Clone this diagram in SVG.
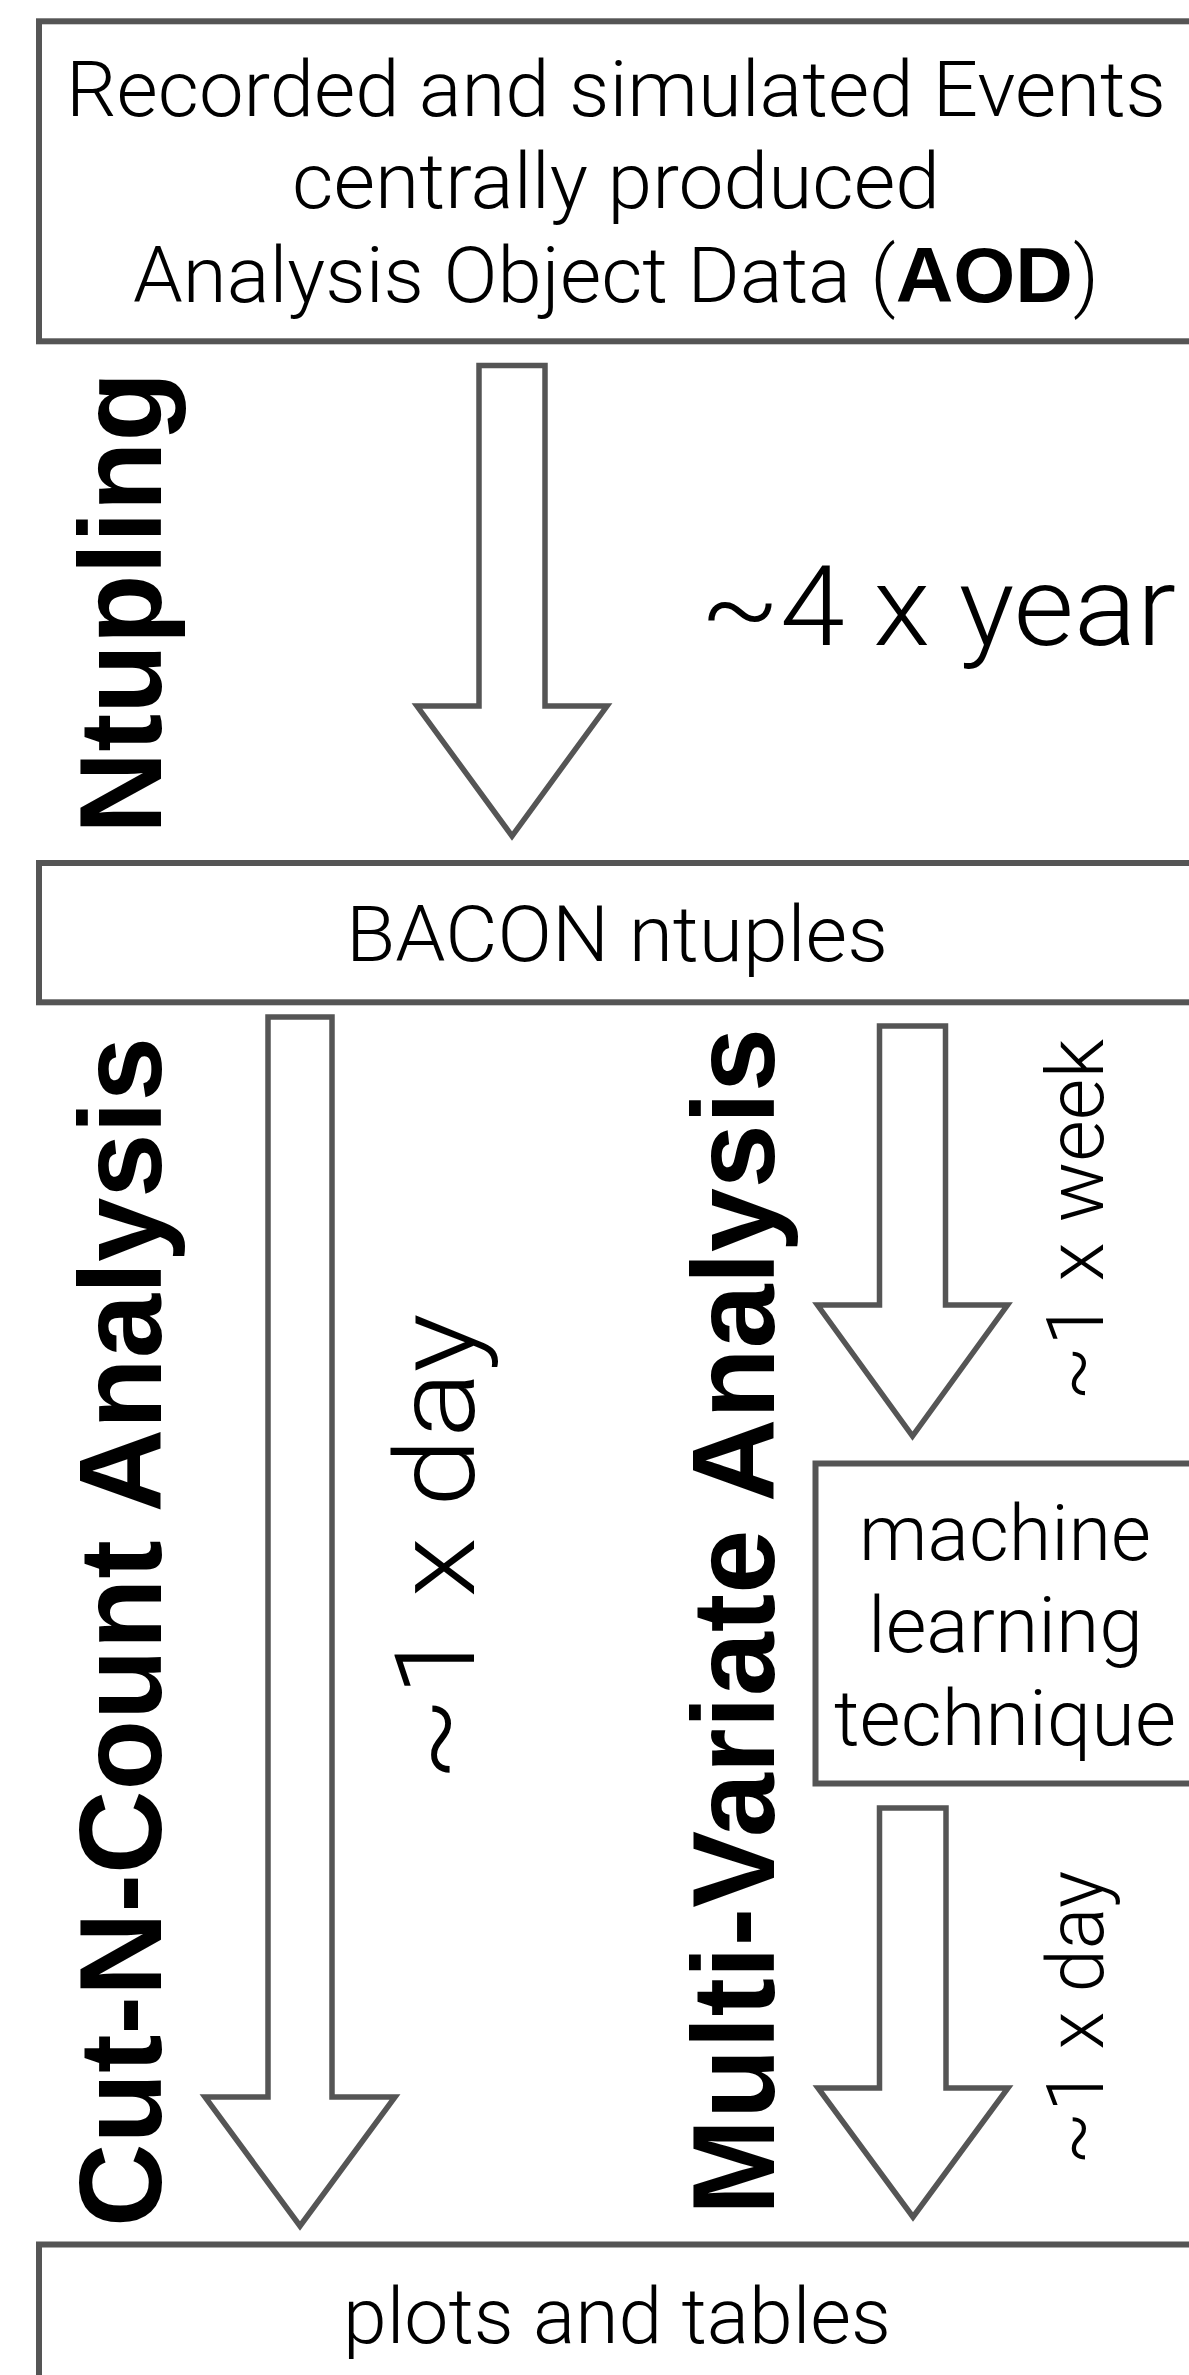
<svg xmlns="http://www.w3.org/2000/svg" width="1189" height="2375" viewBox="0 0 1189 2375">
<style>
.box{fill:#fff;stroke:#555;stroke-width:6}
.arr{fill:#fff;stroke:#555;stroke-width:5.5;stroke-linejoin:miter;stroke-miterlimit:10}
.t{font-family:Roboto,"Liberation Sans",sans-serif;font-weight:300;font-size:78px;fill:#000;text-anchor:middle}
.tb{font-family:"Liberation Sans",Arial,sans-serif;font-weight:bold;font-size:116px;fill:#000;text-anchor:middle}
.b{font-family:"Liberation Sans",Arial,sans-serif;font-weight:bold}
</style>
<rect width="1189" height="2375" fill="#fff"/>
<g id="connectors">
<polygon class="arr" points="479,365.5 545,365.5 545,706 607,706 512,836 417,706 479,706"/>
<polygon class="arr" points="268,1017 332,1017 332,2097 395,2097 300,2226 205,2097 268,2097"/>
<polygon class="arr" points="879.5,1026 945.5,1026 945.5,1305 1007.5,1305 912.5,1436 817.5,1305 879.5,1305"/>
<polygon class="arr" points="879.5,1808 946,1808 946,2088 1008,2088 913,2217 818,2088 879.5,2088"/>
</g>
<g id="aod">
<rect class="box" x="39" y="21.3" width="1170" height="320"/>
<text class="t" x="616" y="116" textLength="1100" lengthAdjust="spacingAndGlyphs">Recorded and simulated Events</text>
<text class="t" x="616" y="208.3" textLength="648" lengthAdjust="spacingAndGlyphs">centrally produced</text>
<text class="t" x="616" y="301.7" textLength="966" lengthAdjust="spacingAndGlyphs">Analysis Object Data (<tspan class="b">AOD</tspan>)</text>
</g>
<g id="bacon">
<rect class="box" x="39" y="863" width="1170" height="139.3"/>
<text class="t" x="617" y="960.7" textLength="542" lengthAdjust="spacingAndGlyphs">BACON ntuples</text>
</g>
<g id="ml">
<rect class="box" x="815.5" y="1463.5" width="400" height="320"/>
<text class="t" x="1005" y="1560" textLength="292" lengthAdjust="spacingAndGlyphs">machine</text>
<text class="t" x="1005.5" y="1652" textLength="275" lengthAdjust="spacingAndGlyphs">learning</text>
<text class="t" x="1005" y="1745" textLength="342" lengthAdjust="spacingAndGlyphs">technique</text>
</g>
<g id="plots">
<rect class="box" x="39" y="2244.5" width="1170" height="200"/>
<text class="t" x="617" y="2343.3" textLength="548" lengthAdjust="spacingAndGlyphs">plots and tables</text>
</g>
<g id="labels">
<text class="tb" transform="translate(161,603) rotate(-90)" textLength="462" lengthAdjust="spacingAndGlyphs">Ntupling</text>
<text class="tb" transform="translate(161,1632) rotate(-90)" textLength="1190" lengthAdjust="spacingAndGlyphs">Cut-N-Count Analysis</text>
<text class="tb" transform="translate(774,1621.5) rotate(-90)" textLength="1187" lengthAdjust="spacingAndGlyphs">Multi-Variate Analysis</text>
<text class="t" x="700" y="645" style="text-anchor:start;font-size:112px" textLength="476" lengthAdjust="spacingAndGlyphs">~4 x year</text>
<text class="t" transform="translate(474,1547.5) rotate(-90)" style="font-size:112px" textLength="468" lengthAdjust="spacingAndGlyphs">~1 x day</text>
<text class="t" transform="translate(1103,1220) rotate(-90)" style="font-size:80px" textLength="362" lengthAdjust="spacingAndGlyphs">~1 x week</text>
<text class="t" transform="translate(1103,2018) rotate(-90)" style="font-size:80px" textLength="294" lengthAdjust="spacingAndGlyphs">~1 x day</text>
</g>
</svg>
